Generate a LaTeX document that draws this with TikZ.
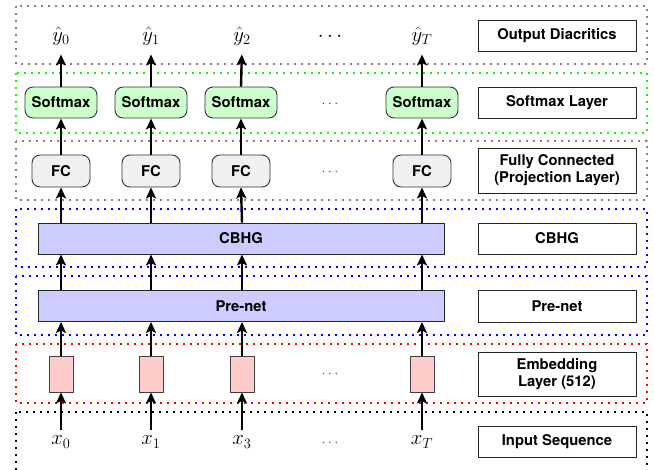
\documentclass[tikz,border=0pt]{standalone}
\usepackage{fontspec}
\setsansfont{TeX Gyre Heros}
\usetikzlibrary{arrows.meta}
\begin{document}
\begin{tikzpicture}[x=1pt,y=-1pt,
  txt/.style={font=\fontsize{14.8}{17}\selectfont\sffamily\bfseries},
  frame/.style={line width=1.6pt, dash pattern=on 1.6pt off 5.4pt},
  lbl/.style={txt, draw=black!85, line width=0.9pt, minimum width=158pt,
    align=center, inner sep=0pt},
  smbox/.style={txt, draw=black!80, fill=green!20, rounded corners=8pt,
    minimum width=72pt, minimum height=31pt, line width=0.9pt, inner sep=0pt},
  fcbox/.style={txt, draw=black!80, fill=black!6, rounded corners=8pt,
    minimum width=58pt, minimum height=32pt, line width=0.9pt, inner sep=0pt},
  bar/.style={txt, draw=black!85, fill=blue!20, minimum width=406pt,
    minimum height=31pt, line width=0.9pt, inner sep=0pt},
  emb/.style={draw=black!75, fill=red!20, minimum width=24pt,
    minimum height=36pt, line width=0.9pt, inner sep=0pt},
  ylab/.style={font=\fontsize{21}{25}\selectfont, inner sep=0pt,
    text height=14.5pt, text depth=5pt},
  xlab/.style={font=\fontsize{21}{25}\selectfont, inner sep=0pt,
    text height=9pt, text depth=4pt},
  gap/.style={font=\fontsize{14}{16}\selectfont, text=black!70, inner sep=0pt},
  flow/.style={-{Stealth[length=11pt,width=10pt,inset=2.5pt]}, line width=2.4pt},
]
\useasboundingbox (0,0) rectangle (654,470);

% layer frames
\draw[frame, gray]  (16,6)   rectangle (647,64);
\draw[frame, green] (16,73)  rectangle (647,133);
\draw[frame, gray]  (16,141) rectangle (647,200);
\draw[frame, blue]  (16,209) rectangle (647,267);
\draw[frame, blue]  (16,276) rectangle (647,335);
\draw[frame, red]   (16,344) rectangle (647,403);
\draw[frame, black] (16,412) rectangle (647,480);

% layer names
\node[lbl, minimum height=31pt] (lout) at (557,35.5) {Output Diacritics};
\node[lbl, minimum height=31pt] (lsm)  at (557,102.5) {Softmax Layer};
\node[lbl, minimum height=45pt] (lfc)  at (557,170.5) {Fully Connected\\(Projection Layer)};
\node[lbl, minimum height=31pt] (lcb)  at (557,238.5) {CBHG};
\node[lbl, minimum height=32pt] (lpn)  at (557,306) {Pre-net};
\node[lbl, minimum height=44pt] (lemb) at (557,374) {Embedding\\Layer (512)};
\node[lbl, minimum height=31pt] (lin)  at (557,441.5) {Input Sequence};

% outputs
\node[ylab] (y0) at (61,37)  {$\hat{y}_0$};
\node[ylab] (y1) at (151,37) {$\hat{y}_1$};
\node[ylab] (y2) at (242,37) {$\hat{y}_2$};
\node[ylab] (yT) at (422,37) {$\hat{y}_T$};
\node[font=\fontsize{20}{24}\selectfont, inner sep=0pt] (ydots) at (330,37) {$\cdots$};

% softmax
\node[smbox] (s0) at (61,102.5)  {Softmax};
\node[smbox] (s1) at (151,102.5) {Softmax};
\node[smbox] (s2) at (241,102.5) {Softmax};
\node[smbox] (sT) at (422,102.5) {Softmax};
\node[gap] (sdots) at (330,104) {$\cdots$};

% fully connected
\node[fcbox] (f0) at (61,171)  {FC};
\node[fcbox] (f1) at (151,171) {FC};
\node[fcbox] (f2) at (241,171) {FC};
\node[fcbox] (fT) at (422,171) {FC};
\node[gap] (fdots) at (330,172) {$\cdots$};

% CBHG and pre-net
\node[bar] (cbhg)   at (241,238.5) {CBHG};
\node[bar] (prenet) at (241,306)   {Pre-net};

% embeddings
\node[emb] (e0) at (61,374)  {};
\node[emb] (e1) at (151,374) {};
\node[emb] (e2) at (242,374) {};
\node[emb] (eT) at (422,374) {};
\node[gap] (edots) at (330,374) {$\cdots$};

% inputs
\node[xlab] (x0) at (61,442.5)  {$x_0$};
\node[xlab] (x1) at (151,442.5) {$x_1$};
\node[xlab] (x2) at (242,442.5) {$x_3$};
\node[xlab] (xT) at (422,442.5) {$x_T$};
\node[gap] (xdots) at (330,443) {$\cdots$};

% data flow
\foreach \c in {0,1,2,T}{
  \draw[flow, shorten <=6pt] (x\c.north) -- (e\c.south);
  \draw[flow] (e\c.north) -- (prenet.south -| e\c);
  \draw[flow] (prenet.north -| e\c) -- (cbhg.south -| e\c);
  \draw[flow] (cbhg.north -| e\c) -- (f\c.south);
  \draw[flow] (f\c.north) -- (s\c.south);
  \draw[flow, shorten >=7.5pt] (s\c.north) -- (y\c.south);
}
\end{tikzpicture}
\end{document}
